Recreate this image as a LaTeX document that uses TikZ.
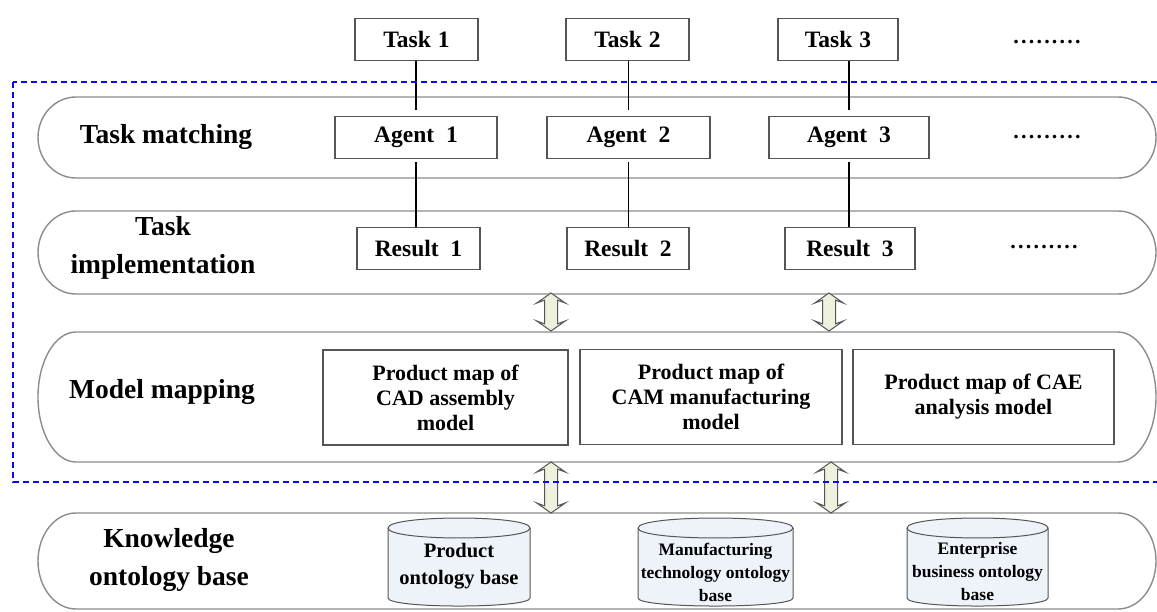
\documentclass[tikz,border=0pt]{standalone}
\usepackage{fontspec}
\setmainfont{Liberation Serif}
\usetikzlibrary{shapes.arrows}

\definecolor{rowgray}{HTML}{8C8C8C}
\definecolor{boxgray}{HTML}{555555}
\definecolor{dashblue}{HTML}{0A0AF0}
\definecolor{arrowfill}{HTML}{EEF1DC}
\definecolor{cylfill}{HTML}{EDF3F9}

\begin{document}
\begin{tikzpicture}[x=1pt, y=-1pt,
  rowline/.style={draw=rowgray, line width=1.4pt},
  rowlabel/.style={font=\bfseries\fontsize{27.5}{38}\selectfont, align=center},
  agentbox/.style={draw=boxgray, line width=1.1pt, fill=white, font=\bfseries\fontsize{23.5}{26}\selectfont, minimum height=42pt, inner sep=0pt},
  mapbox/.style={draw=boxgray, line width=1.1pt, minimum height=95pt, align=center, font=\bfseries\fontsize{22}{25}\selectfont, inner sep=0pt},
  dots/.style={font=\bfseries\fontsize{22}{22}\selectfont\addfontfeature{LetterSpace=10}},
  link/.style={line width=1.1pt},
  dblarrow/.style={double arrow, draw=boxgray, line width=1pt, fill=arrowfill, rotate=90, inner sep=6pt, double arrow head extend=8pt, double arrow tip angle=110, double arrow head indent=3pt, minimum height=#1},
  cyl/.style={draw=boxgray, line width=1pt, fill=cylfill},
  cyltext/.style={align=center, font=\bfseries\fontsize{17.5}{23}\selectfont}
]
  \useasboundingbox (0,0) rectangle (1157,612);

  % the four layers
  \foreach \yt/\yb/\ry in {97/178/40.5, 211/294/41.5, 332/462/65, 513/609/48} {
    \draw[rowline] (76,\yt) -- (1118,\yt) arc[start angle=90, end angle=-90, x radius=38pt, y radius=\ry pt]
      -- (76,\yb) arc[start angle=270, end angle=90, x radius=38pt, y radius=\ry pt] -- cycle;
  }

  \node[rowlabel] (lblmatch) at (166,137) {Task matching};
  \node[rowlabel] (lblimpl) at (163,248) {Task\\implementation};
  \node[rowlabel] (lblmap) at (162,392) {Model mapping};
  \node[rowlabel] (lblbase) at (169,560) {Knowledge\\ontology base};

  % tasks, agents and results
  \foreach \i/\x/\w in {1/416.5/123, 2/627.5/123, 3/838/120}
    \node[agentbox, minimum width=\w pt] (task\i) at (\x,39.5) {Task\hspace{.3em}\i};
  \foreach \i/\x/\w in {1/416/162, 2/628.5/163, 3/849/160}
    \node[agentbox, minimum width=\w pt] (agent\i) at (\x,137.5) {Agent\hspace{.5em}\i};
  \foreach \i/\x/\w in {1/418.5/123, 2/628/122, 3/850/130}
    \node[agentbox, minimum width=\w pt] (result\i) at (\x,248.5) {Result\hspace{.5em}\i};

  \foreach \i in {1,2,3} {
    \draw[link, shorten >=6pt] (task\i.south -| agent\i) -- (agent\i.north);
    \draw[link, shorten <=3pt] (agent\i.south) -- (result\i.north -| agent\i);
  }

  \node[dots] (moretask) at (1047,42) {.........};
  \node[dots] (moreagent) at (1047,137) {.........};
  \node[dots] (moreresult) at (1044,247) {.........};

  % product maps
  \node[mapbox, minimum width=245pt] (mapcad) at (445.5,397.5) {Product map of\\CAD assembly\\model};
  \node[mapbox, minimum width=262pt] (mapcam) at (711,397) {Product map of\\CAM manufacturing\\model};
  \node[mapbox, minimum width=261pt] (mapcae) at (983.5,397) {Product map of CAE\\analysis model};

  % ontology bases
  \foreach \l/\r in {388/530, 638/793, 907/1048} {
    \draw[cyl] (\l,528) .. controls (\l,514.7) and (\r,514.7) .. (\r,528) -- (\r,598)
      .. controls (\r,608.7) and (\l,608.7) .. (\l,598) -- cycle;
    \draw[cyl, fill=none] (\l,528) .. controls (\l,541.3) and (\r,541.3) .. (\r,528);
  }
  \node[cyltext, font=\bfseries\fontsize{20.5}{27}\selectfont] (baseprod) at (459,566) {Product\\ontology base};
  \node[cyltext] (basemanu) at (715.5,572) {Manufacturing\\technology ontology\\base};
  \node[cyltext] (baseent) at (977.5,572) {Enterprise\\business ontology\\base};

  % exchange between layers
  \node[dblarrow=38pt] (xchg1) at (551,312) {};
  \node[dblarrow=38pt] (xchg2) at (829,312) {};
  \node[dblarrow=51pt] (xchg3) at (551,487.5) {};
  \node[dblarrow=51pt] (xchg4) at (831,487.5) {};

  \draw[dashblue, line width=1.2pt, dash pattern=on 6pt off 4pt] (13,82) rectangle (1175,482);
\end{tikzpicture}
\end{document}
